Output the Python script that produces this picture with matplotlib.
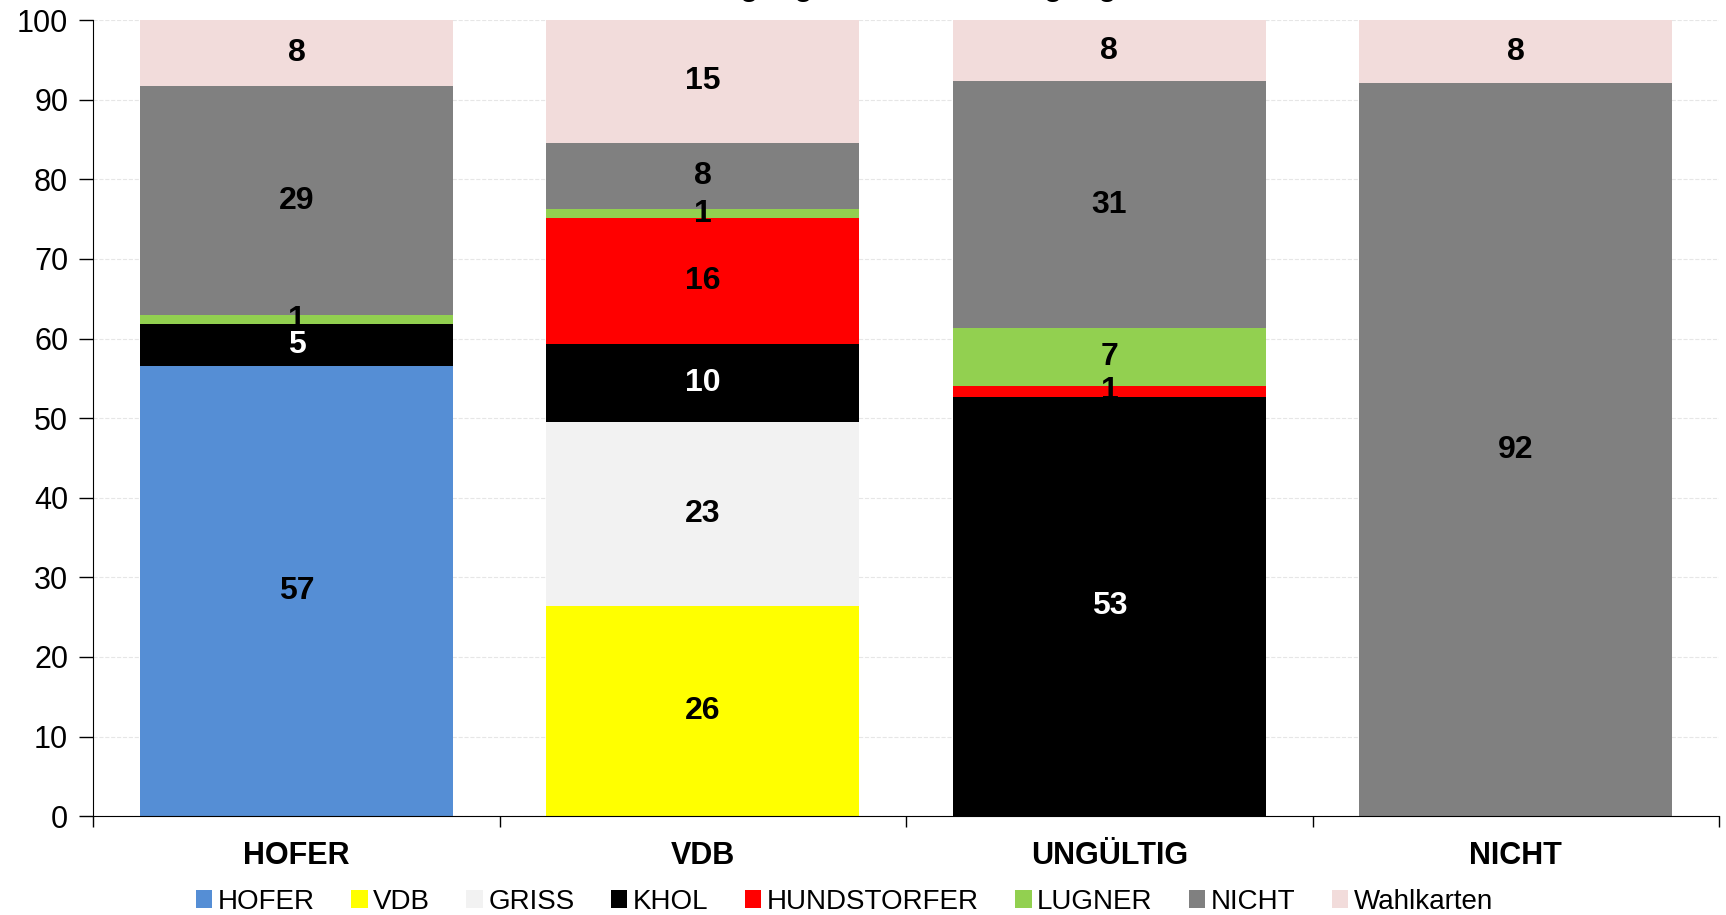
import numpy as np
import matplotlib.pyplot as plt

plt.rcParams['font.family'] = ['Liberation Sans', 'DejaVu Sans']

categories = ["HOFER", "VDB", "UNGÜLTIG", "NICHT"]
series = ["HOFER", "VDB", "GRISS", "KHOL", "HUNDSTORFER", "LUGNER", "NICHT", "Wahlkarten"]
colors = ["#558ED5", "#FFFF00", "#F2F2F2", "#000000", "#FF0000", "#92D050", "#808080", "#F2DCDB"]

hofer = [56.6, 0, 0, 0]
vdb = [0, 26.4, 0, 0]
griss = [0, 23.1, 0, 0]
khol = [5.2, 9.8, 52.7, 0]
hundstorfer = [0, 15.8, 1.4, 0]
lugner = [1.1, 1.2, 7.2, 0]
nicht = [28.8, 8.3, 31.0, 92.1]
wahlkarten = [8.3, 15.4, 7.7, 7.9]

values = [hofer, vdb, griss, khol, hundstorfer, lugner, nicht, wahlkarten]

fig = plt.figure(figsize=(17.26, 9.15), dpi=100)
ax = fig.add_axes([0.054, 0.108, 0.942, 0.87])

x = np.arange(len(categories))
bottom = np.zeros(len(categories))
for name, vals, col in zip(series, values, colors):
    vals = np.array(vals)
    ax.bar(x, vals, 0.77, bottom=bottom, color=col, label=name, zorder=2)
    for i, v in enumerate(vals):
        if v > 0:
            tc = "white" if col == "#000000" else "black"
            ax.text(x[i], bottom[i] + v / 2, f"{v:.0f}", ha="center", va="center",
                    fontsize=23, fontweight="bold", color=tc, zorder=3)
    bottom += vals

ax.set_xlim(-0.5, 3.5)
ax.set_ylim(0, 100)
ax.set_yticks(range(0, 101, 10))
ax.tick_params(axis="y", labelsize=22, length=10, width=1, direction="out", pad=8)
ax.set_xticks(x)
ax.set_xticklabels(categories, fontsize=22, fontweight="bold")
ax.tick_params(axis="x", length=0, pad=18)
ax.set_xticks([-0.5, 0.5, 1.5, 2.5, 3.5], minor=True)
ax.tick_params(axis="x", which="minor", length=8, width=1, direction="out")
ax.grid(axis="y", color="#e6e6e6", linestyle="--", linewidth=0.8, zorder=0)
ax.spines["top"].set_visible(False)
ax.spines["right"].set_visible(False)

ax.legend(loc="upper center", bbox_to_anchor=(0.462, -0.077), ncol=8, frameon=False,
          fontsize=20, handlelength=0.6, handleheight=0.6, handletextpad=0.2,
          columnspacing=1.3, borderaxespad=0)

fig.text(0.52, 1.014, "Wählerströme erster Wahlgang → zweiter Wahlgang Wien, mit Wahlkarten",
         ha="center", va="center", fontsize=22, fontweight="bold")

fig.savefig("out.png", dpi=100)
